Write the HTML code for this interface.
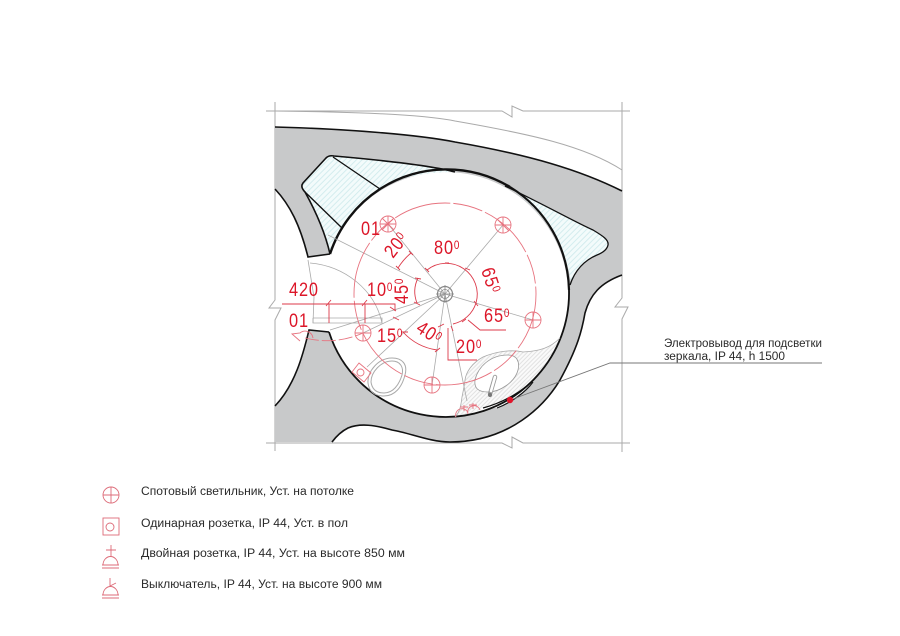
<!DOCTYPE html>
<html><head><meta charset="utf-8"><style>
html,body{margin:0;padding:0;background:#fff}
svg{display:block}
text{font-family:"Liberation Sans",sans-serif}
.r text{fill:#dc1628;font-size:19px;letter-spacing:1px}
.r tspan{font-size:11.5px}
.t{font-size:11.5px;fill:#2a2a2a}
</style></head><body>
<svg width="900" height="636" viewBox="0 0 900 636" xmlns="http://www.w3.org/2000/svg">
<defs>
<pattern id="h" width="4" height="4" patternUnits="userSpaceOnUse" patternTransform="rotate(-45)">
<rect width="4" height="4" fill="#f3fbfb"/><line x1="0" y1="1" x2="4" y2="1" stroke="#bfe3e6" stroke-width=".6"/>
</pattern>
<pattern id="g" width="3" height="3" patternUnits="userSpaceOnUse" patternTransform="rotate(-45)">
<rect width="3" height="3" fill="#fafafa"/><line x1="0" y1="1" x2="3" y2="1" stroke="#d2d2d2" stroke-width=".6"/>
</pattern>
</defs>

<!-- gray grid lines -->
<g fill="none" stroke="#aaa" stroke-width="1">
<path d="M266,111H502L512,117V106L523,111H630"/>
<path d="M266,443H502L512,448V437L523,443H630"/>
<path d="M275,102V300L269,308H281L275,320V451"/>
<path d="M622,102V298L615,307H628L622,319V452"/>
<path d="M275,111C350,112 420,114 455,121C530,134 585,146 622,170"/>
</g>

<!-- walls -->
<path d="M275,127C350,129 420,135 455,142C530,155 580,170 622,191V275C600,283 590,295 585,313C582,330 578,347 560,380C545,405 510,442 450,442C430,442 410,433 392,430C375,425 360,423 348,428C340,432 335,438 332,442H275V406C295,385 303,355 309,330L329,332A122.5,122.5 0 1 0 330,254L308,257C300,225 290,205 275,189Z" fill="#c8c9ca"/>
<path d="M302,185L326,158Q329,155 334,156C380,160 430,165 455,172C425,172 395,178 380,189C360,200 350,215 342,228C335,238 332,246 330,254C325,232 315,210 305,192Q301,188 302,185Z" fill="url(#h)"/>
<path d="M513,190C545,205 575,222 593,230C603,236 609,240 608,245C607,250 602,253 597,255C585,260 575,270 571,283C565,240 540,210 513,190Z" fill="url(#h)"/>
<path d="M483,408C505,402 525,390 537,376C548,365 555,350 560,338C550,348 540,351 523,352C510,349 495,352 483,357C472,363 466,372 465,380C464,388 463,392 462,397C461,405 460,412 455,417C465,416 475,412 483,408Z" fill="url(#g)"/>
<path d="M485,408C505,400 525,390 536,377C528,392 510,403 497,408Z" fill="#fff"/>

<g fill="none" stroke="#111" stroke-width="1.6">
<path d="M275,127C350,129 420,135 455,142C530,155 580,170 622,191"/>
<path d="M622,275C600,283 590,295 585,313C582,330 578,347 560,380C545,405 510,442 450,442C430,442 410,433 392,430C375,425 360,423 348,428C340,432 335,438 332,442"/>
<path d="M275,406C295,385 303,355 309,330L329,332"/>
<path d="M329,332A122.5,122.5 0 0 0 537,376A123,123 0 0 0 569,290" stroke-width="1.8"/>
<path d="M569,290A124,124 0 0 0 510,187" stroke-width="2.2"/>
<path d="M510,187A123,123 0 0 0 380,189A123,123 0 0 0 330,254" stroke-width="2.4"/>
<path d="M275,189C290,205 300,225 308,257L330,254"/>
<path d="M330,254C325,232 315,210 305,192Q300,187 303,183L326,158Q329,155 334,156C380,160 430,165 455,172"/>
<path d="M333,157L380,189M305,192L342,228" stroke-width="1.3"/>
<path d="M505,186C545,205 575,222 593,230C603,236 609,240 608,245C607,250 602,253 597,255C585,260 575,270 570,285" stroke-width="1.3"/>
<path d="M483,408C505,402 525,390 537,376" stroke-width="1.2"/>
<path d="M497,408C510,403 525,393 533,382" stroke-width="1.2"/>
</g>

<!-- door, fixtures gray -->
<g fill="none" stroke="#aaa" stroke-width=".8">
<path d="M313,318H382V323H313V318M310,263C345,266 375,290 382,323"/>
<path d="M308,260L314,297L313,323"/>
<path d="M445,294L388,224M445,294L503,225M445,294L533,320M445,294L432,385M445,294L363,333M445,294L330,330M445,294L328,235M445,294L367,367M445,294L467,401"/>
<path d="M368,383C367,372 378,358 392,358C402,358 408,364 405,375C402,387 395,396 384,396C374,396 369,391 368,383Z" stroke-width="1"/>
<path d="M371,382C371,372 381,361 392,361C400,361 404,367 402,375C399,385 393,393 384,393C376,393 372,389 371,382Z" stroke-width="1"/>
<path d="M475,380C478,367 490,355 508,355C517,355 520,362 518,370C515,382 500,392 488,392C478,392 474,388 475,380Z" fill="#fff" stroke="#999"/>
<path d="M483,357C495,352 510,349 523,352C540,351 550,348 560,338M483,357C472,363 466,372 465,380C464,388 463,392 462,397C461,405 460,412 455,417"/>
<path d="M495,377L490,394" stroke-width="4.4" stroke="#999" stroke-linecap="round"/>
<path d="M495,377L491,391" stroke-width="2.6" stroke="#fff" stroke-linecap="round"/>
<circle cx="490" cy="395" r="2" fill="#777" stroke="none"/>
<circle cx="445" cy="294" r="7.5" stroke="#888" stroke-width="1.2"/>
<circle cx="445" cy="294" r="4.5" stroke="#888"/>
<path d="M436,294H454M445,285V303" stroke="#888"/>
</g>
<g fill="none" stroke="#777" stroke-width=".9">
<path d="M513,399L610,363H822"/>
</g>
<circle cx="510" cy="400" r="3.2" fill="#e0142a"/>

<!-- red layer -->
<g fill="none" stroke="#e7737f" stroke-width=".9">
<circle cx="445" cy="294" r="91" stroke-dasharray="58 3 30 3"/>
<path d="M305,338C325,343 345,341 363,333" stroke-dasharray="14 3"/>
<circle cx="388" cy="224" r="8"/><path d="M380,224H396M388,216V232M382,218L394,230M394,218L382,230"/>
<circle cx="503" cy="225" r="8"/><path d="M495,225H511M503,217V233M497,219L509,231"/>
<circle cx="533" cy="320" r="8"/><path d="M525,320H541M533,312V328"/>
<circle cx="432" cy="385" r="8"/><path d="M424,385H440M432,377V393"/>
<circle cx="363" cy="333" r="8"/><path d="M355,333H371M363,325V341"/>
<path d="M313,338A8,8 0 0 0 300,333L292,334L300,341"/>
<path d="M359,363L371,373L364,382L352,372Z"/>
<circle cx="360.500" cy="372.500" r="3.5"/>
<path d="M456,417A6,6 0 0 1 468,413M468,414A6,6 0 0 1 480,410M464,405V411M460,407H468M473,403V409M469,405H477"/>
</g>
<g fill="none" stroke="#dc3a4a" stroke-width=".9">
<path d="M282,304H395V311M329,304V323M365,304V323"/>
<path d="M418,278A31,31 0 0 0 417,303"/>
<path d="M427,270A31,31 0 0 1 476,303A31,31 0 0 1 453,324"/>
<path d="M398,268A61,61 0 0 1 411,253"/>
<path d="M403,332A57,57 0 0 0 437,350"/>
<path d="M468,320L480,330H506M448,328V360H477"/>
<path d="M326,306L331,300M362,306L367,300M390,307L396,311M393,317L399,320M401,332L408,332M435,352L440,348M445,263L449,263M425,268L429,272M465,268L470,270M474,301L478,306M415,278L421,279M414,302L420,305M396,266L400,270M409,251L413,255M438,327L444,324M451,326L453,331M462,322L466,319"/>
</g>

<g class="r">
<text transform="translate(361,235) scale(.86,1)">01</text>
<text transform="translate(393,259) rotate(-52) scale(.86,1)">20<tspan dy="-5">0</tspan></text>
<text transform="translate(434,254) scale(.86,1)">80<tspan dy="-5">0</tspan></text>
<text transform="translate(481,270) rotate(72) scale(.86,1)">65<tspan dy="-5">0</tspan></text>
<text transform="translate(289,296) scale(.86,1)">420</text>
<text transform="translate(367,296) scale(.86,1)">10<tspan dy="-5">0</tspan></text>
<text transform="translate(408,304) rotate(-90) scale(.86,1)">45<tspan dy="-5">0</tspan></text>
<text transform="translate(289,327) scale(.86,1)">01</text>
<text transform="translate(377,342) scale(.86,1)">15<tspan dy="-5">0</tspan></text>
<text transform="translate(415,331) rotate(33) scale(.86,1)">40<tspan dy="-5">0</tspan></text>
<text transform="translate(484,322) scale(.86,1)">65<tspan dy="-5">0</tspan></text>
<text transform="translate(456,353) scale(.86,1)">20<tspan dy="-5">0</tspan></text>
</g>

<!-- annotation -->
<text class="t" x="664" y="347" textLength="158" lengthAdjust="spacingAndGlyphs">Электровывод для подсветки</text>
<text class="t" x="664" y="360" textLength="121" lengthAdjust="spacingAndGlyphs">зеркала, IP 44, h 1500</text>

<!-- legend -->
<g fill="none" stroke="#dd6b78" stroke-width=".9">
<circle cx="111" cy="495" r="8"/><path d="M103,495H119M111,487V503"/>
<rect x="103" y="518" width="16" height="17"/><circle cx="110" cy="527" r="4"/>
<path d="M111,545V556M106,550H116M103,565A7.5,8.5 0 0 1 118,565M102,565H119M102,568H119"/>
<path d="M110,578V586L116,583M103,595A7.5,8.5 0 0 1 118,595M102,595H119M102,598H119"/>
</g>
<text class="t" x="141" y="495" textLength="213" lengthAdjust="spacingAndGlyphs">Спотовый светильник, Уст. на потолке</text>
<text class="t" x="141" y="527" textLength="207" lengthAdjust="spacingAndGlyphs">Одинарная розетка, IP 44, Уст. в пол</text>
<text class="t" x="141" y="557" textLength="264" lengthAdjust="spacingAndGlyphs">Двойная розетка, IP 44, Уст. на высоте 850 мм</text>
<text class="t" x="141" y="588" textLength="241" lengthAdjust="spacingAndGlyphs">Выключатель, IP 44, Уст. на высоте 900 мм</text>
</svg>
</body></html>
